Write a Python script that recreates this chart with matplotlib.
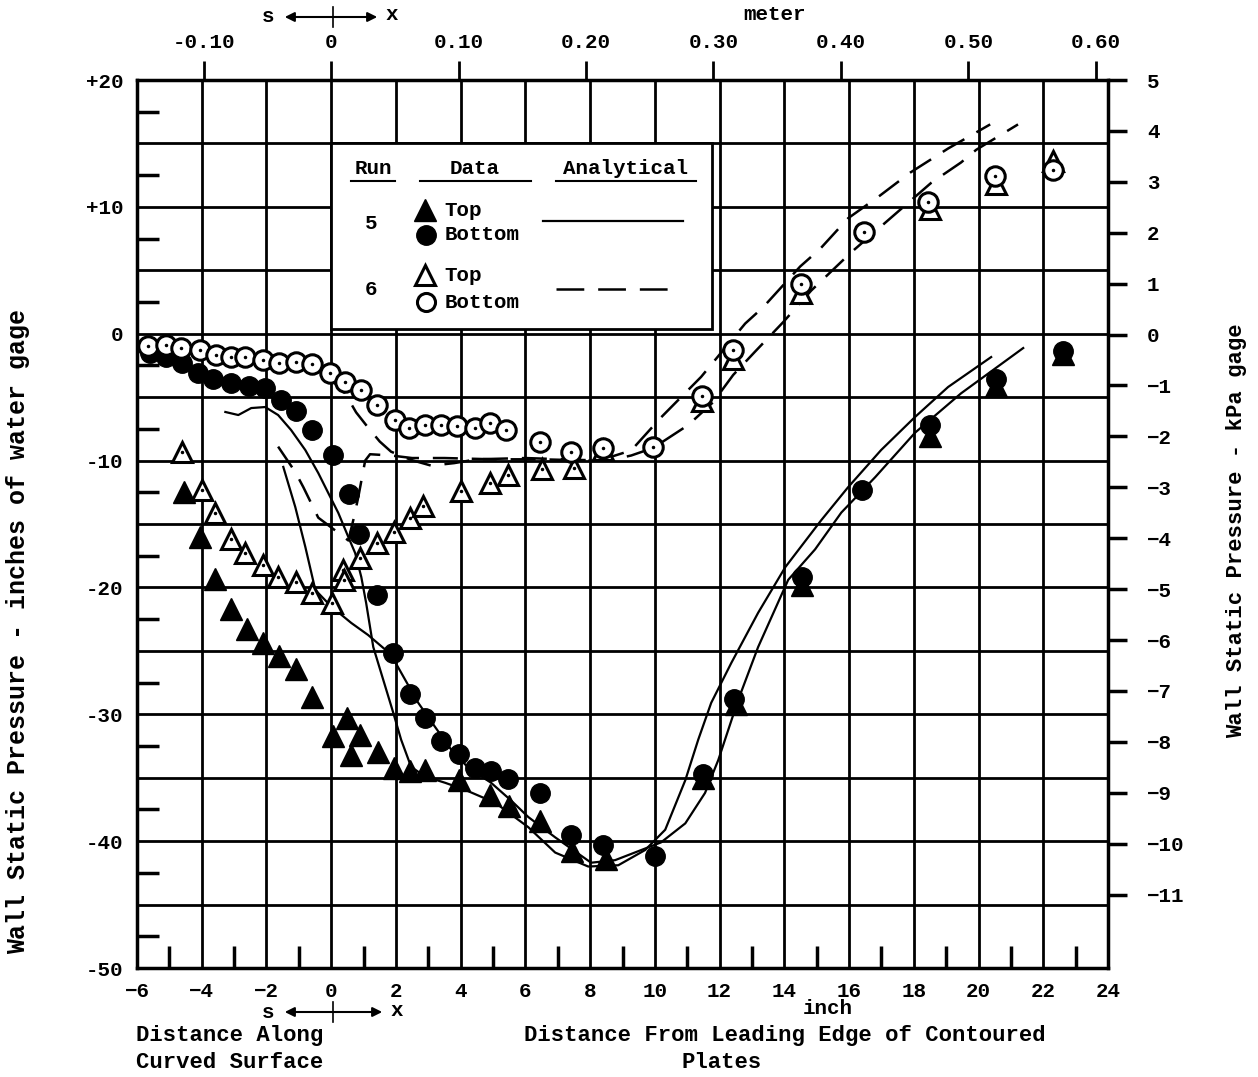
import numpy as np
import matplotlib.pyplot as plt
from matplotlib.patches import Rectangle
from matplotlib.lines import Line2D

plt.rcParams['font.family'] = ['Liberation Mono', 'DejaVu Sans Mono']
plt.rcParams['font.weight'] = 'bold'
plt.rcParams['lines.scale_dashes'] = False

# ---- data (inch, inches of water) ----
# run 5, filled markers
r5_bot_x = [-5.6, -5.1, -4.6, -4.1, -3.65, -3.1, -2.55, -2.05, -1.55, -1.1, -0.6, 0.05, 0.55, 0.85,
            1.4, 1.9, 2.45, 2.9, 3.4, 3.95, 4.45, 4.95, 5.45, 6.45, 7.4, 8.4, 10.0, 11.5, 12.45,
            14.55, 16.4, 18.5, 20.55, 22.6]
r5_bot_y = [-1.5, -1.8, -2.3, -3.1, -3.6, -3.9, -4.1, -4.3, -5.2, -6.1, -7.6, -9.6, -12.6, -15.8,
            -20.6, -25.2, -28.4, -30.3, -32.1, -33.1, -34.2, -34.5, -35.1, -36.2, -39.5, -40.3, -41.2,
            -34.7, -28.8, -19.2, -12.3, -7.2, -3.6, -1.4]
r5_top_x = [-4.55, -4.05, -3.6, -3.1, -2.6, -2.1, -1.6, -1.1, -0.6, 0.05, 0.5, 0.9, 0.6, 1.45, 1.95,
            2.45, 2.9, 3.95, 4.9, 5.5, 6.45, 7.45, 8.5, 11.5, 12.5, 14.55, 18.5, 20.55, 22.6]
r5_top_y = [-12.5, -16.0, -19.3, -21.7, -23.3, -24.4, -25.4, -26.4, -28.6, -31.7, -30.3, -31.6, -33.2,
            -33.0, -34.2, -34.5, -34.4, -35.2, -36.4, -37.2, -38.4, -40.8, -41.4, -35.0, -29.2,
            -19.8, -8.1, -4.1, -1.6]

# run 6, open markers
r6_top_x = [-4.6, -4.0, -3.6, -3.1, -2.65, -2.1, -1.65, -1.1, -0.6, 0.03, 0.35, 0.4, 0.9, 1.4, 1.95,
            2.45, 2.85, 4.0, 4.9, 5.45, 6.5, 7.5, 8.4, 11.45, 12.4, 14.5, 18.5, 20.55, 22.3]
r6_top_y = [-9.3, -12.3, -14.1, -16.2, -17.3, -18.2, -19.2, -19.6, -20.4, -21.2, -18.6, -19.4, -17.7,
            -16.5, -15.6, -14.5, -13.6, -12.4, -11.8, -11.1, -10.7, -10.6, -9.2, -5.3, -2.0, 3.2,
            9.8, 11.8, 13.6]
r6_bot_x = [-5.65, -5.1, -4.65, -4.05, -3.55, -3.1, -2.65, -2.1, -1.6, -1.1, -0.6, -0.03, 0.43, 0.93,
            1.4, 1.97, 2.4, 2.9, 3.4, 3.9, 4.45, 4.9, 5.4, 6.45, 7.4, 8.4, 9.95, 11.45, 12.4, 14.5,
            16.45, 18.45, 20.5, 22.3]
r6_bot_y = [-1.0, -0.9, -1.1, -1.3, -1.65, -1.8, -1.8, -2.05, -2.3, -2.2, -2.4, -3.1, -3.8, -4.4,
            -5.6, -6.8, -7.4, -7.2, -7.2, -7.3, -7.4, -7.0, -7.6, -8.5, -9.3, -9.0, -8.9, -4.9, -1.3,
            3.9, 8.0, 10.4, 12.4, 12.9]

# analytical, run 5 (solid)
a5_top_x = [-3.27, -2.87, -2.47, -2.04, -1.64, -1.24, -0.8, -0.4, -0.09, 0.22, 0.53, 0.74, 0.93, 1.08,
            1.3, 1.61, 1.92, 2.16, 2.47, 2.9, 3.52, 4.14, 5.07, 6.09, 6.92, 7.94, 8.87, 9.7, 10.32,
            10.94, 11.34, 11.74, 12.36, 13.19, 14.03, 15.14, 15.97, 16.99, 18.04, 19.06, 20.39]
a5_top_y = [-6.17, -6.41, -5.86, -5.78, -6.41, -7.59, -9.17, -10.98, -12.56, -14.13, -16.03, -17.29,
            -19.18, -21.23, -24.7, -27.3, -29.9, -32.0, -34.15, -34.9, -35.4, -35.96, -36.98, -38.9,
            -40.9, -42.0, -41.9, -40.7, -39.1, -35.2, -32.0, -29.1, -25.96, -22.0, -18.4, -14.7,
            -12.1, -9.17, -6.56, -4.2, -1.84]
a5_bot_x = [-1.48, -1.11, -0.8, -0.49, 0.0, 0.62, 1.14, 1.67, 1.98, 2.29, 2.69, 3.21, 3.71, 4.23,
            4.94, 5.56, 6.09, 6.92, 8.03, 8.77, 9.58, 10.19, 10.94, 11.55, 11.96, 12.57, 13.19,
            14.12, 14.95, 15.76, 16.81, 18.04, 19.46, 21.38]
a5_bot_y = [-10.5, -13.66, -16.8, -20.2, -21.5, -22.8, -23.75, -24.9, -25.9, -27.3, -29.1, -31.0,
            -32.8, -34.2, -35.4, -36.8, -38.1, -39.7, -41.7, -41.5, -40.7, -40.1, -38.6, -36.2,
            -33.6, -28.9, -24.7, -19.4, -17.0, -14.1, -11.3, -7.8, -4.7, -1.13]

# analytical, run 6 (dashed)
a6_top_x = [-1.64, -1.11, -0.86, -0.4, 0.12, 0.53, 0.72, 0.85, 1.05, 1.2, 1.85, 2.5, 3.5, 5.0, 6.5,
            8.0, 8.56, 9.27, 9.95, 11.03, 11.8, 12.42, 13.1, 13.96, 14.83, 16.06, 17.05, 18.54,
            19.46, 19.93, 21.22]
a6_top_y = [-8.9, -10.9, -12.1, -14.5, -15.5, -16.3, -14.3, -12.7, -10.0, -9.5, -9.6, -9.8, -9.8,
            -9.9, -9.9, -10.0, -10.0, -9.6, -9.0, -7.2, -5.4, -3.25, -1.4, 0.9, 3.4, 6.4, 8.6, 11.9,
            13.5, 14.5, 16.5]
a6_bot_x = [-1.2, -0.62, -0.09, 0.43, 0.77, 1.14, 1.5, 1.85, 2.47, 3.09, 3.8, 4.5, 6.0, 7.94, 8.65,
            9.27, 10.19, 11.43, 12.79, 13.35, 14.49, 15.11, 15.97, 16.96, 17.89, 19.06, 20.36]
a6_bot_y = [-2.1, -2.45, -3.4, -4.7, -6.2, -7.4, -8.5, -9.3, -9.95, -10.4, -10.2, -9.9, -9.8, -9.97,
            -9.7, -9.2, -6.6, -3.4, 0.8, 2.1, 5.3, 6.7, 9.1, 10.9, 12.7, 14.6, 16.5]

IN2KPA = 0.24884
IN2M = 0.0254
W, H = 1258, 1077


def fx(px):
    return px / W


def fy(py):
    return 1 - py / H


fig = plt.figure(figsize=(W / 100, H / 100), dpi=100)
ax = fig.add_axes([fx(137), fy(968), (1108 - 137) / W, (968 - 80) / H])
ax.set_xlim(-6, 24)
ax.set_ylim(-50, 20)

# grid + frame
ax.set_xticks(np.arange(-6, 25, 2))
ax.set_yticks(np.arange(-50, 21, 5))
ax.set_yticklabels([('+%d' % v if v > 0 else '%d' % v) if v % 10 == 0 else '' for v in range(-50, 21, 5)])
ax.grid(True, color='black', lw=2)
ax.set_axisbelow(True)
ax.tick_params(which='major', length=0, labelsize=15, pad=10)
ax.set_xticks(np.arange(-5, 24, 2), minor=True)
ax.set_yticks(np.arange(-47.5, 20, 5), minor=True)
ax.tick_params(which='minor', direction='in', length=16, width=2.5,
               left=True, right=True, top=True, bottom=True)
for s in ax.spines.values():
    s.set_linewidth(2.5)

# kPa on the right
ax_r = ax.twinx()
ax_r.set_ylim(-50 * IN2KPA, 20 * IN2KPA)
ax_r.set_yticks(np.arange(-11, 6, 1))
ax_r.tick_params(direction='out', length=14, width=2.5, labelsize=15, pad=14)
for s in ax_r.spines.values():
    s.set_visible(False)

# meters on top
ax_t = ax.twiny()
ax_t.set_xlim(-6 * IN2M, 24 * IN2M)
mt = np.round(np.arange(-0.1, 0.61, 0.1), 2)
ax_t.set_xticks(mt)
ax_t.set_xticklabels(['0' if v == 0 else '%.2f' % v for v in mt])
ax_t.tick_params(direction='out', length=14, width=2, labelsize=15, pad=6)
for s in ax_t.spines.values():
    s.set_visible(False)

# analytical curves
ax.plot(a5_top_x, a5_top_y, color='black', lw=1.6, zorder=3)
ax.plot(a5_bot_x, a5_bot_y, color='black', lw=1.6, zorder=3)
ax.plot(a6_top_x, a6_top_y, color='black', lw=1.8, dashes=(18, 10), zorder=3)
ax.plot(a6_bot_x, a6_bot_y, color='black', lw=1.8, dashes=(18, 10), zorder=3)

# data
ax.plot(r5_bot_x, r5_bot_y, 'o', color='black', ms=14, ls='none', zorder=4)
ax.plot(r5_top_x, r5_top_y, '^', color='black', ms=16, ls='none', zorder=4)
ax.plot(r6_top_x, r6_top_y, '^', mfc='white', mec='black', mew=2.2, ms=15, ls='none', zorder=4)
ax.plot(r6_top_x, r6_top_y, '.', color='black', ms=3, ls='none', zorder=4)
ax.plot(r6_bot_x, r6_bot_y, 'o', mfc='white', mec='black', mew=2.2, ms=14, ls='none', zorder=5)
ax.plot(r6_bot_x, r6_bot_y, '.', color='black', ms=3, ls='none', zorder=5)

# legend box
ax.add_patch(Rectangle((0, 0.4), 11.75, 14.6, facecolor='white', edgecolor='black', lw=2, zorder=6))
fs = 15
ax.text(1.3, 13.05, 'Run', fontsize=fs, ha='center', va='center', zorder=7)
ax.text(4.42, 13.05, 'Data', fontsize=fs, ha='center', va='center', zorder=7)
ax.text(9.1, 13.05, 'Analytical', fontsize=fs, ha='center', va='center', zorder=7)
for x0, x1 in [(0.62, 1.98), (2.75, 6.18), (6.95, 11.28)]:
    ax.plot([x0, x1], [12.0, 12.0], color='black', lw=1.5, zorder=7)
ax.text(1.24, 8.65, '5', fontsize=fs, ha='center', va='center', zorder=7)
ax.text(1.24, 3.45, '6', fontsize=fs, ha='center', va='center', zorder=7)
ax.plot([2.9], [9.75], '^', color='black', ms=16, zorder=7)
ax.plot([2.93], [7.8], 'o', color='black', ms=14, zorder=7)
ax.plot([2.9], [4.6], '^', mfc='white', mec='black', mew=2.2, ms=15, zorder=7)
ax.plot([2.93], [2.5], 'o', mfc='white', mec='black', mew=2.2, ms=13, zorder=7)
for yy, lab in [(9.75, 'Top'), (7.8, 'Bottom'), (4.6, 'Top'), (2.5, 'Bottom')]:
    ax.text(3.5, yy, lab, fontsize=fs, ha='left', va='center', zorder=7)
ax.plot([6.55, 10.87], [8.88, 8.88], color='black', lw=1.6, zorder=7)
ax.plot([6.95, 10.47], [3.52, 3.52], color='black', lw=1.8, dashes=(20, 10), zorder=7)

# outside labels
fig.text(fx(18), fy(632), 'Wall Static Pressure - inches of water gage', rotation=90,
         fontsize=18, ha='center', va='center')
fig.text(fx(1237), fy(531), 'Wall Static Pressure - kPa gage', rotation=90,
         fontsize=16, ha='center', va='center')
fig.text(fx(775), fy(15), 'meter', fontsize=15, ha='center', va='center')
fig.text(fx(828), fy(1008), 'inch', fontsize=15, ha='center', va='center')
fig.text(fx(230), fy(1035), 'Distance Along', fontsize=16, ha='center', va='center')
fig.text(fx(230), fy(1062), 'Curved Surface', fontsize=16, ha='center', va='center')
fig.text(fx(785), fy(1035), 'Distance From Leading Edge of Contoured', fontsize=16,
         ha='center', va='center')
fig.text(fx(722), fy(1062), 'Plates', fontsize=16, ha='center', va='center')

# s <-+-> x markers (top and bottom)
for yc, x_s, x_e, x_x in [(17, 282, 380, 392), (1012, 282, 385, 397)]:
    fig.text(fx(268), fy(yc), 's', fontsize=15, ha='center', va='center')
    fig.text(fx(x_x), fy(yc - 2), 'x', fontsize=15, ha='center', va='center')
    ax.annotate('', xy=(fx(x_e), fy(yc)), xytext=(fx(x_s), fy(yc)), xycoords='figure fraction',
                textcoords='figure fraction',
                arrowprops=dict(arrowstyle='<|-|>', color='black', lw=1.5, mutation_scale=14))
    fig.add_artist(Line2D([fx(333), fx(333)], [fy(yc - 10), fy(yc + 10)], color='black', lw=1.2,
                          transform=fig.transFigure))

fig.savefig('out.png', dpi=100)
